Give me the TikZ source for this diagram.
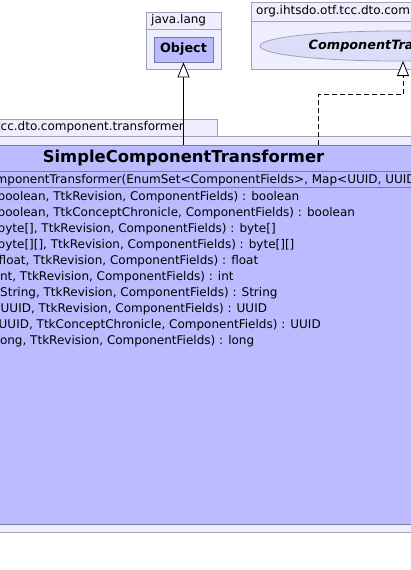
\documentclass[tikz,border=0pt]{standalone}
\usepackage{fontspec}
\setmainfont{DejaVu Sans}
\usetikzlibrary{arrows.meta,shapes.geometric}
\definecolor{pkgfill}{RGB}{238,238,255}
\definecolor{pkgedge}{RGB}{160,160,180}
\definecolor{clsfill}{RGB}{187,187,255}
\definecolor{clsedge}{RGB}{120,120,160}
\definecolor{ifcfill}{RGB}{221,221,250}
\begin{document}
\begin{tikzpicture}[x=1pt,y=-1pt,
    pkgbox/.style={draw=pkgedge,fill=pkgfill,line width=0.8pt,inner sep=0pt,anchor=north west},
    clsbox/.style={draw=clsedge,fill=clsfill,line width=0.8pt,inner sep=0pt},
    txt/.style={inner sep=0pt,anchor=west,font=\fontsize{12}{14}\selectfont},
    gen/.style={-{Triangle[length=15pt,width=12pt,fill=white]},line width=0.8pt},
    real/.style={gen,dash pattern=on 5pt off 3pt}]
    \useasboundingbox (0,0) rectangle (411,570);
    \clip (0,0) rectangle (411,570);
    \node[pkgbox,minimum width=75pt,minimum height=57pt] (pkglang) at (146,12) {};
    \draw[pkgedge,line width=0.8pt] (146,29) -- (221,29);
    \node[txt] (langname) at (151,20.5) {java.lang};
    \node[clsbox,minimum width=59pt,minimum height=25pt,font=\bfseries\fontsize{12.8}{14}\selectfont] (objcls) at (183.5,49.5) {Object};
    \node[pkgbox,minimum width=170pt,minimum height=67pt] (pkgorg) at (251,2) {};
    \draw[pkgedge,line width=0.8pt] (251,21) -- (421,21);
    \node[txt] (orgname) at (256,11.5) {org.ihtsdo.otf.tcc.dto.component};
    \node[ellipse,draw=pkgedge,fill=ifcfill,line width=0.8pt,minimum width=268pt,minimum height=30pt,inner sep=0pt,
        font=\bfseries\itshape\fontsize{12.8}{14}\selectfont] (ifc) at (394,46) {ComponentTransformer};
    \node[pkgbox,minimum width=227pt,minimum height=17pt] (pkgtab) at (-10,119) {};
    \node[pkgbox,minimum width=440pt,minimum height=396pt] (pkgtrans) at (-10,136) {};
    \node[txt,anchor=east] (transname) at (184,127.5) {tcc.dto.component.transformer};
    \node[clsbox,minimum width=440pt,minimum height=379.5pt,anchor=north west] (cls) at (-10,144.5) {};
    \draw[clsedge,line width=0.8pt] (-10,171.5) -- (430,171.5);
    \draw[clsedge,line width=0.8pt] (-10,187.5) -- (430,187.5);
    \node[font=\bfseries\fontsize{16.4}{18}\selectfont] (clsname) at (183.5,158) {SimpleComponentTransformer};
    \node[txt] (ctor) at (-4.5,180.5) {mponentTransformer(EnumSet<ComponentFields>, Map<UUID, UUID>)};
    \foreach \dx/\op [count=\i] in {
        -2.5/{boolean, TtkRevision, ComponentFields) : boolean},
        -2.5/{boolean, TtkConceptChronicle, ComponentFields) : boolean},
        -2.5/{byte[], TtkRevision, ComponentFields) : byte[]},
        -2.5/{byte[][], TtkRevision, ComponentFields) : byte[][]},
        -1.5/{float, TtkRevision, ComponentFields) : float},
        -3.5/{int, TtkRevision, ComponentFields) : int},
        0/{String, TtkRevision, ComponentFields) : String},
        0.5/{UUID, TtkRevision, ComponentFields) : UUID},
        -1.5/{UUID, TtkConceptChronicle, ComponentFields) : UUID},
        -3.5/{long, TtkRevision, ComponentFields) : long}}
        \node[txt] (op\i) at (\dx,181+16*\i) {\op};
    \coordinate (bend) at (318,94.5);
    \coordinate (ifcfoot) at (403,61);
    \draw[gen] (objcls.south |- cls.north) -- (objcls.south);
    \draw[real] (bend |- cls.north) -- (bend) -| (ifcfoot);
\end{tikzpicture}
\end{document}
